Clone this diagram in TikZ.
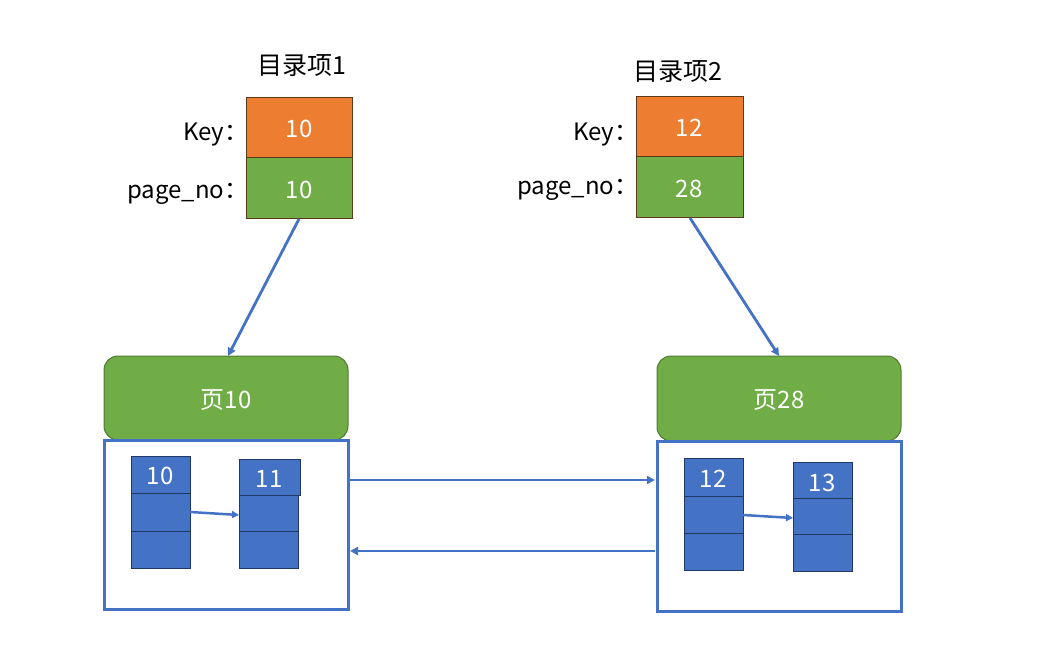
\documentclass[tikz,border=0pt]{standalone}
\usepackage{fontspec}
\setmainfont{Noto Sans CJK SC}
\usetikzlibrary{arrows.meta}
\definecolor{cOrange}{HTML}{ED7D31}
\definecolor{cGreen}{HTML}{70AD47}
\definecolor{cBlue}{HTML}{4472C4}
\definecolor{cBrown}{HTML}{5A3A1A}
\definecolor{cDkGreen}{HTML}{4E7A30}
\definecolor{cNavy}{HTML}{1F3864}
\begin{document}
\begin{tikzpicture}[x=1pt,y=-1pt,
  keybox/.style={fill=cOrange,draw=cBrown,line width=1pt},
  pgbox/.style={fill=cGreen,draw=cBrown,line width=1pt},
  wtxt/.style={text=white,font=\fontsize{24}{28}\selectfont},
  lbl/.style={anchor=east,font=\fontsize{24}{28}\selectfont,text=black},
  ttl/.style={font=\fontsize{25}{29}\selectfont,text=black},
  page/.style={fill=cGreen,draw=cDkGreen,line width=1pt,rounded corners=14pt},
  frame/.style={draw=cBlue,line width=3pt},
  cell/.style={fill=cBlue,draw=cNavy,line width=1pt},
  conn/.style={draw=cBlue,line width=2.8pt,-{Triangle[length=8pt,width=8pt]}},
  sconn/.style={draw=cBlue,line width=2.5pt,-{Triangle[length=7pt,width=7pt]}}
]
\useasboundingbox (0,0) rectangle (1050,655);
% directory entry 1
\node[ttl] (t1) at (302,66) {目录项1};
\path[keybox] (246,98) rectangle (352,158);
\node[wtxt] (k1) at (299,129) {10};
\path[pgbox] (246,158) rectangle (352,219);
\node[wtxt] (p1) at (299,190) {10};
\coordinate (p1b) at (299,219);
\node[lbl] (lk1) at (252,135) {Key：};
\node[lbl] (lp1) at (252,194) {page\_no：};
% directory entry 2
\node[ttl] (t2) at (678,72) {目录项2};
\path[keybox] (636,97) rectangle (743,157);
\node[wtxt] (k2) at (689,128) {12};
\path[pgbox] (636,157) rectangle (743,218);
\node[wtxt] (p2) at (689,189) {28};
\coordinate (p2b) at (690,218);
\node[lbl] (lk2) at (642,135) {Key：};
\node[lbl] (lp2) at (642,190) {page\_no：};
% pages
\path[page] (104,356) rectangle (348,440);
\node[wtxt] (pg10) at (226,400) {页10};
\coordinate (pg10t) at (228,356);
\path[page] (657,356) rectangle (901,441);
\node[wtxt] (pg28) at (779,400) {页28};
\coordinate (pg28t) at (779,356);
% frames
\path[frame] (104,440) rectangle (348,609);
\path[frame] (657,441) rectangle (901,611);
% left stacks
\path[cell] (131,456) rectangle (190,493);
\path[cell] (131,493) rectangle (190,531);
\path[cell] (131,531) rectangle (190,568);
\node[wtxt] (c10) at (160,476) {10};
\path[cell] (239,459) rectangle (300,495);
\path[cell] (239,495) rectangle (298,531);
\path[cell] (239,531) rectangle (298,568);
\node[wtxt] (c11) at (269,479) {11};
% right stacks
\path[cell] (684,458) rectangle (743,496);
\path[cell] (684,496) rectangle (743,533);
\path[cell] (684,533) rectangle (743,570);
\node[wtxt] (c12) at (713,479) {12};
\path[cell] (793,462) rectangle (852,498);
\path[cell] (793,498) rectangle (852,534);
\path[cell] (793,534) rectangle (852,571);
\node[wtxt] (c13) at (822,483) {13};
% connector anchor points
\coordinate (a1s) at (190,512);
\coordinate (a1e) at (239,515);
\coordinate (a2s) at (743,515);
\coordinate (a2e) at (793,518);
\coordinate (f1r1) at (350,480);
\coordinate (f2l1) at (655,480);
\coordinate (f2l2) at (655,551);
\coordinate (f1r2) at (350,551);
% connectors
\draw[conn] (p1b) -- (pg10t);
\draw[conn] (p2b) -- (pg28t);
\draw[sconn] (a1s) -- (a1e);
\draw[sconn] (a2s) -- (a2e);
\draw[conn] (f1r1) -- (f2l1);
\draw[conn] (f2l2) -- (f1r2);
\end{tikzpicture}
\end{document}
